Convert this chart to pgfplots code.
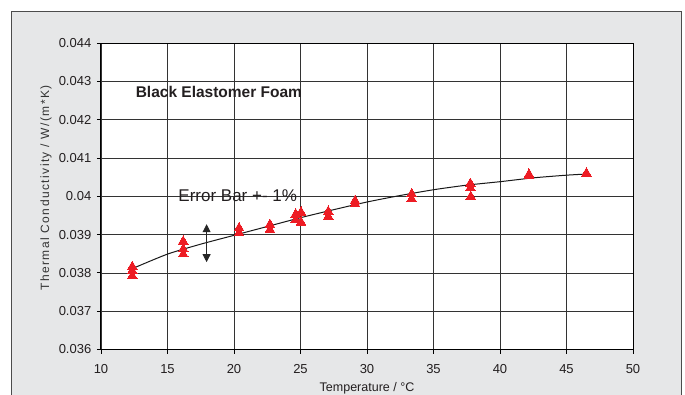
\documentclass[border=0pt]{standalone}
\usepackage{pgfplots}
\pgfplotsset{compat=1.18}
\usetikzlibrary{arrows.meta}
\usepackage{fontspec}
\setmainfont{Liberation Sans}
\newfontfamily\spacedfont[LetterSpace=12]{Liberation Sans}
\definecolor{bggray}{HTML}{E6E7E8}
\definecolor{ptred}{HTML}{ED1C24}
\definecolor{txt}{HTML}{231F20}

\pgfplotstableread{
x y
12.35 0.03816
12.35 0.03805
12.35 0.03792
16.18 0.03882
16.18 0.03862
16.18 0.03849
20.38 0.03917
20.38 0.03904
22.70 0.03926
22.70 0.03913
24.64 0.03953
24.64 0.03938
25.04 0.03958
25.04 0.03932
27.09 0.03960
27.09 0.03947
29.10 0.03988
29.10 0.03980
33.36 0.04006
33.36 0.03993
37.77 0.04033
37.77 0.04022
37.80 0.03999
42.18 0.04057
42.18 0.04053
46.50 0.04060
}\measured

\pgfplotstableread{
x y
12.35 0.03811
15.0 0.03849
17.5 0.03875
20.0 0.03898
22.5 0.03921
25.0 0.03944
27.5 0.03965
30.0 0.03985
32.5 0.04002
35.0 0.04017
37.5 0.04029
40.0 0.04038
42.5 0.04048
45.0 0.04055
46.5 0.04058
}\trend

\begin{document}
\begin{tikzpicture}[x=1pt,y=1pt]
\path[use as bounding box] (-101,-44.5) rectangle (584,349.5);
\fill[white] (-101,-44.5) rectangle (584,349.5);
\filldraw[fill=bggray, draw=black!70, line width=1pt] (-89.3,-70) rectangle (580.7,337.5);
\begin{axis}[
  at={(0,0)}, anchor=south west,
  scale only axis, width=532pt, height=306.5pt,
  xmin=10, xmax=50, ymin=0.036, ymax=0.044,
  xtick={10,15,20,25,30,35,40,45,50},
  ytick={0.036,0.037,0.038,0.039,0.040,0.041,0.042,0.043,0.044},
  yticklabels={0.036,0.037,0.038,0.039,0.04,0.041,0.042,0.043,0.044},
  scaled y ticks=false,
  /pgf/number format/assume math mode=true,
  axis background/.style={fill=white},
  grid=major,
  major grid style={black!80, line width=0.7pt},
  axis line style={black, line width=1pt},
  tick align=outside, xtick pos=bottom, ytick pos=left,
  major tick length=4pt,
  tick style={black, line width=0.8pt},
  ticklabel style={font=\fontsize{13}{15}\selectfont, text=txt},
  xticklabel style={anchor=north, inner sep=0pt, yshift=-10.5pt},
  yticklabel style={anchor=east, inner sep=0pt, xshift=-5.5pt},
  xlabel={Temperature / °C},
  xlabel style={at={(axis description cs:0.5,-0.125)}, anchor=center, font=\fontsize{12.5}{14}\selectfont, text=txt},
  ylabel={Thermal Conductivity / W/(m*K)},
  ylabel style={at={(axis description cs:-0.1034,0.527)}, anchor=center, font=\fontsize{12}{14}\selectfont\spacedfont, text=black!80},
  clip=false,
]
\addplot[black!90, line width=1pt, smooth, tension=0.4] table[x=x,y=y] {\trend};
\addplot[only marks, mark=triangle*, mark size=5.6pt, mark options={fill=ptred, draw=ptred, line width=0pt}] table[x=x,y=y] {\measured};
\draw[{Triangle[width=8pt,length=8pt]}-{Triangle[width=8pt,length=8pt]}, black!85, line width=0.8pt] (axis cs:17.94,0.03927) -- (axis cs:17.94,0.03828);
\node[anchor=west, inner sep=0pt, font=\fontsize{15.5}{18}\selectfont\bfseries, text=txt] at (axis cs:12.6,0.04273) {Black Elastomer Foam};
\node[anchor=west, inner sep=0pt, font=\fontsize{17}{20}\selectfont, text=txt] at (axis cs:15.81,0.04001) {Error Bar +- 1\%};
\end{axis}
\end{tikzpicture}
\end{document}
